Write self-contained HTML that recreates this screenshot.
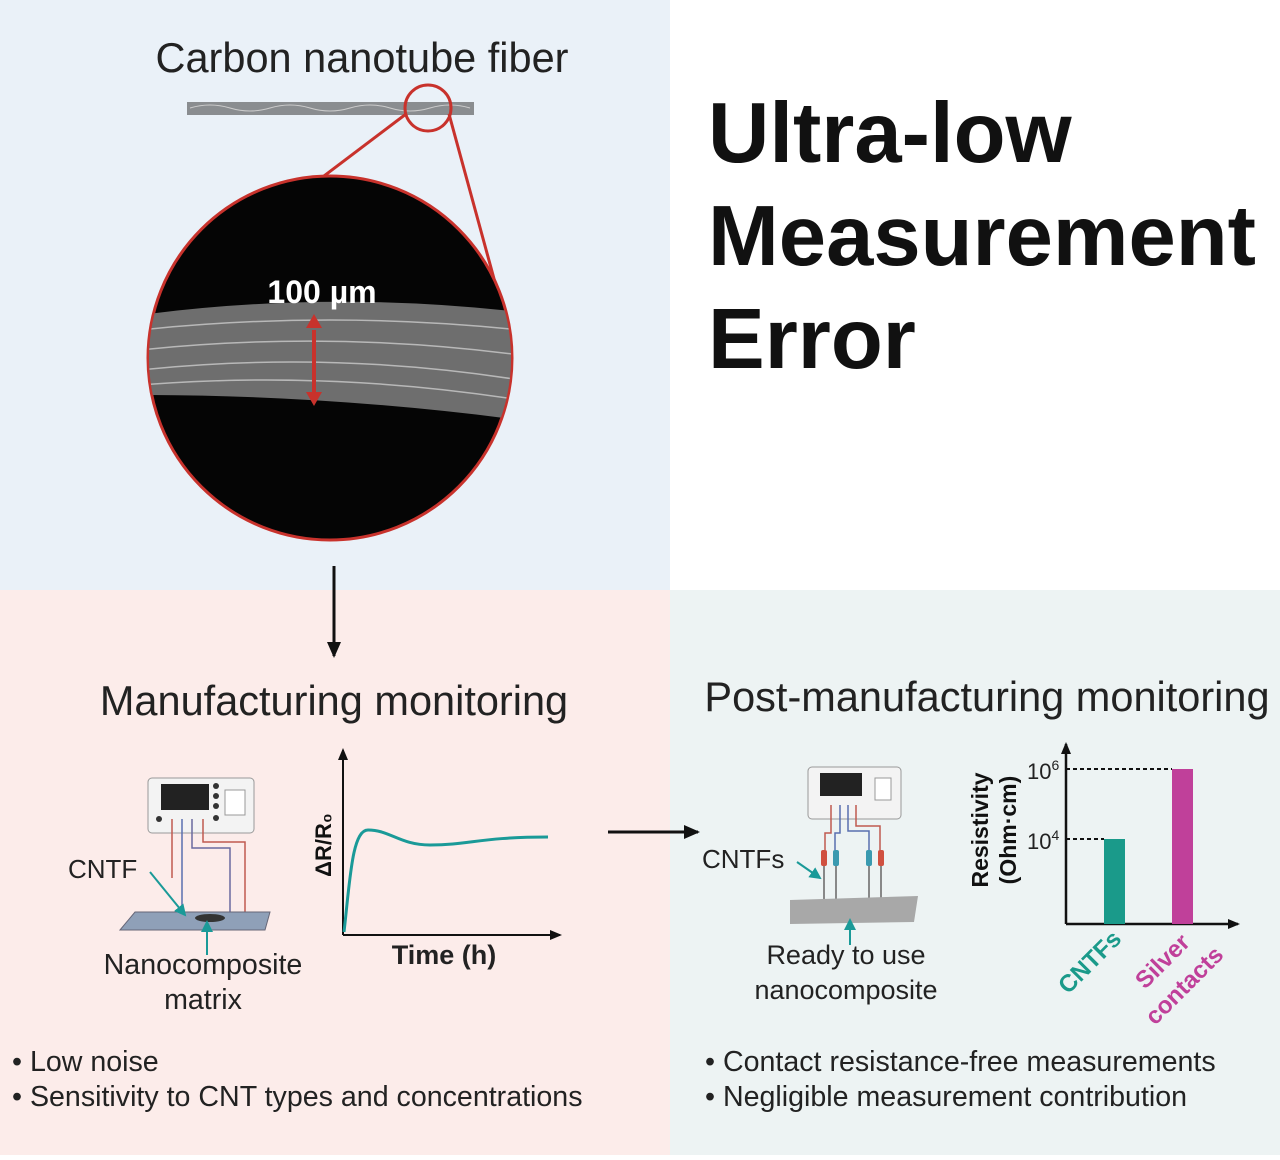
<!DOCTYPE html>
<html><head><style>
body{margin:0;width:1280px;height:1155px;overflow:hidden;font-family:"Liberation Sans",sans-serif}
</style></head><body>
<svg width="1280" height="1155" viewBox="0 0 1280 1155" xmlns="http://www.w3.org/2000/svg" font-family="Liberation Sans, sans-serif">
<defs>
<marker id="ah" markerUnits="userSpaceOnUse" markerWidth="16" markerHeight="16" refX="14" refY="8" orient="auto"><path d="M0,1 L16,8 L0,15 Z" fill="#111"/></marker>
<marker id="ahs" markerUnits="userSpaceOnUse" markerWidth="12" markerHeight="12" refX="10" refY="6" orient="auto"><path d="M0,1 L12,6 L0,11 Z" fill="#111"/></marker>
<marker id="aht" markerWidth="6" markerHeight="6" refX="5" refY="3" orient="auto"><path d="M0,0 L6,3 L0,6 Z" fill="#1a9a98"/></marker>
</defs>
<rect width="1280" height="1155" fill="#fff"/>
<rect x="0" y="0" width="670" height="590" fill="#eaf1f8"/>
<rect x="0" y="590" width="670" height="565" fill="#fcecea"/>
<rect x="670" y="590" width="610" height="565" fill="#edf3f3"/>
<text x="362" y="72" font-size="41.5" text-anchor="middle" fill="#222">Carbon nanotube fiber</text>
<rect x="187" y="102" width="287" height="13" fill="#8a8d90"/>
<path d="M190,108 q20,-6 40,0 t40,0 t40,0 t40,0 t40,0 t40,0 t40,0" stroke="#ccc" fill="none"/>
<circle cx="428" cy="108" r="23" fill="none" stroke="#c8322c" stroke-width="3"/>
<line x1="406" y1="114" x2="160" y2="300" stroke="#c8322c" stroke-width="3"/>
<line x1="449" y1="114" x2="508" y2="330" stroke="#c8322c" stroke-width="3"/>
<circle cx="330" cy="358" r="182" fill="#050505" stroke="#c8322c" stroke-width="3"/>
<clipPath id="cc"><circle cx="330" cy="358" r="181"/></clipPath>
<g clip-path="url(#cc)">
<path d="M140,315 Q330,290 520,312 L520,420 Q330,395 140,395 Z" fill="#6e6e6e"/>
<path d="M140,330 Q330,310 520,330 M140,350 Q330,330 520,355 M140,370 Q330,350 520,380 M140,385 Q330,370 520,400" stroke="#b8b8b8" stroke-width="1.5" fill="none"/>
</g>
<text x="322" y="303" font-size="32" font-weight="bold" fill="#fff" text-anchor="middle">100 µm</text>
<line x1="314" y1="330" x2="314" y2="395" stroke="#c8322c" stroke-width="4"/>
<path d="M306,328 L314,314 L322,328 Z M306,392 L314,406 L322,392 Z" fill="#c8322c"/>
<text x="708" y="162" font-size="85" font-weight="bold" fill="#111">Ultra-low</text>
<text x="708" y="265" font-size="85" font-weight="bold" fill="#111">Measurement</text>
<text x="708" y="368" font-size="85" font-weight="bold" fill="#111">Error</text>
<line x1="334" y1="566" x2="334" y2="656" stroke="#111" stroke-width="3" marker-end="url(#ah)"/>
<text x="334" y="715" font-size="41.5" text-anchor="middle" fill="#222">Manufacturing monitoring</text>
<text x="987" y="711" font-size="41.5" text-anchor="middle" fill="#222">Post-manufacturing monitoring</text>
<!-- left device -->
<rect x="148" y="778" width="106" height="55" rx="4" fill="#f3f3f3" stroke="#999"/>
<rect x="161" y="784" width="48" height="26" fill="#222"/>
<rect x="225" y="790" width="20" height="25" fill="#fff" stroke="#999"/>
<g fill="#333"><circle cx="216" cy="786" r="3"/><circle cx="216" cy="796" r="3"/><circle cx="216" cy="806" r="3"/><circle cx="216" cy="818" r="3"/><circle cx="159" cy="819" r="3"/></g>
<g fill="none" stroke-width="1.5">
<path d="M172,819 V878" stroke="#c05a50"/><path d="M182,819 V918" stroke="#5a6fb0"/><path d="M192,819 V848 H230 V918" stroke="#6a6aa0"/><path d="M203,819 V842 H245 V918" stroke="#c05a50"/>
</g>
<path d="M120,930 L135,912 L270,912 L265,930 Z" fill="#8fa0b8" stroke="#667"/>
<ellipse cx="210" cy="918" rx="15" ry="4" fill="#333"/>
<text x="68" y="878" font-size="26" fill="#222">CNTF</text>
<line x1="150" y1="872" x2="185" y2="915" stroke="#1a9a98" stroke-width="2" marker-end="url(#aht)"/>
<line x1="207" y1="955" x2="207" y2="922" stroke="#1a9a98" stroke-width="2" marker-end="url(#aht)"/>
<text x="203" y="974" font-size="28.6" text-anchor="middle" fill="#222">Nanocomposite</text>
<text x="203" y="1009" font-size="28.6" text-anchor="middle" fill="#222">matrix</text>
<!-- left chart -->
<line x1="343" y1="935" x2="343" y2="750" stroke="#111" stroke-width="2" marker-end="url(#ahs)"/>
<line x1="343" y1="935" x2="560" y2="935" stroke="#111" stroke-width="2" marker-end="url(#ahs)"/>
<path d="M344,932 C350,880 352,830 368,830 C390,830 400,845 430,845 C470,845 480,837 548,837" stroke="#1a9a98" stroke-width="3" fill="none"/>
<text transform="translate(331,845) rotate(-90)" font-size="22" font-weight="bold" text-anchor="middle" fill="#111">ΔR/R₀</text>
<text x="444" y="964" font-size="27" font-weight="bold" text-anchor="middle" fill="#222">Time (h)</text>
<line x1="608" y1="832" x2="698" y2="832" stroke="#111" stroke-width="3" marker-end="url(#ah)"/>
<!-- right device -->
<rect x="808" y="767" width="93" height="52" rx="4" fill="#f3f3f3" stroke="#999"/>
<rect x="820" y="773" width="42" height="23" fill="#222"/>
<rect x="875" y="778" width="16" height="22" fill="#fff" stroke="#999"/>
<g fill="none" stroke-width="1.5">
<path d="M831,805 V833 H825 V850" stroke="#c05a50"/><path d="M840,805 V833 H835 V850" stroke="#5a6fb0"/>
<path d="M848,805 V831 H869 V850" stroke="#5a6fb0"/><path d="M856,805 V826 H880 V850" stroke="#c05a50"/>
</g>
<rect x="821" y="850" width="6" height="16" rx="2" fill="#d05040"/><rect x="833" y="850" width="6" height="16" rx="2" fill="#3a9ab0"/>
<rect x="866" y="850" width="6" height="16" rx="2" fill="#3a9ab0"/><rect x="878" y="850" width="6" height="16" rx="2" fill="#d05040"/>
<g stroke="#888" stroke-width="2"><line x1="824" y1="866" x2="824" y2="920"/><line x1="836" y1="866" x2="836" y2="920"/><line x1="869" y1="866" x2="869" y2="920"/><line x1="881" y1="866" x2="881" y2="920"/></g>
<path d="M790,900 L918,896 L914,922 L790,924 Z" fill="#a8a8a8"/>
<text x="702" y="868" font-size="26" fill="#222">CNTFs</text>
<line x1="797" y1="862" x2="820" y2="878" stroke="#1a9a98" stroke-width="2" marker-end="url(#aht)"/>
<line x1="850" y1="945" x2="850" y2="920" stroke="#1a9a98" stroke-width="2" marker-end="url(#aht)"/>
<text x="846" y="964" font-size="27" text-anchor="middle" fill="#222">Ready to use</text>
<text x="846" y="999" font-size="27" text-anchor="middle" fill="#222">nanocomposite</text>
<!-- bar chart -->
<line x1="1066" y1="924" x2="1066" y2="744" stroke="#111" stroke-width="2.5" marker-end="url(#ahs)"/>
<line x1="1066" y1="924" x2="1238" y2="924" stroke="#111" stroke-width="2.5" marker-end="url(#ahs)"/>
<rect x="1104" y="839" width="21" height="85" fill="#1a9a8a"/>
<rect x="1172" y="769" width="21" height="155" fill="#c0409a"/>
<line x1="1066" y1="839" x2="1104" y2="839" stroke="#111" stroke-width="2" stroke-dasharray="4,3"/>
<line x1="1066" y1="769" x2="1172" y2="769" stroke="#111" stroke-width="2" stroke-dasharray="4,3"/>
<text x="1027" y="779" font-size="22" fill="#222">10<tspan font-size="14" dy="-9">6</tspan></text>
<text x="1027" y="849" font-size="22" fill="#222">10<tspan font-size="14" dy="-9">4</tspan></text>
<text transform="translate(988,830) rotate(-90)" font-size="23" font-weight="bold" text-anchor="middle" fill="#111">Resistivity</text>
<text transform="translate(1016,830) rotate(-90)" font-size="23" font-weight="bold" text-anchor="middle" fill="#111">(Ohm·cm)</text>
<text transform="translate(1068,995) rotate(-45)" font-size="24" font-weight="bold" fill="#1a9a8a">CNTFs</text>
<text transform="translate(1145,990) rotate(-45)" font-size="24" font-weight="bold" fill="#c0409a">Silver</text>
<text transform="translate(1155,1026) rotate(-45)" font-size="24" font-weight="bold" fill="#c0409a">contacts</text>
<text x="12" y="1071" font-size="28.6" fill="#222">•  Low noise</text>
<text x="12" y="1106" font-size="28.6" fill="#222">• Sensitivity to CNT types and concentrations</text>
<text x="705" y="1071" font-size="28.6" fill="#222">• Contact resistance-free measurements</text>
<text x="705" y="1106" font-size="28.6" fill="#222">• Negligible measurement contribution</text>
</svg>
</body></html>
